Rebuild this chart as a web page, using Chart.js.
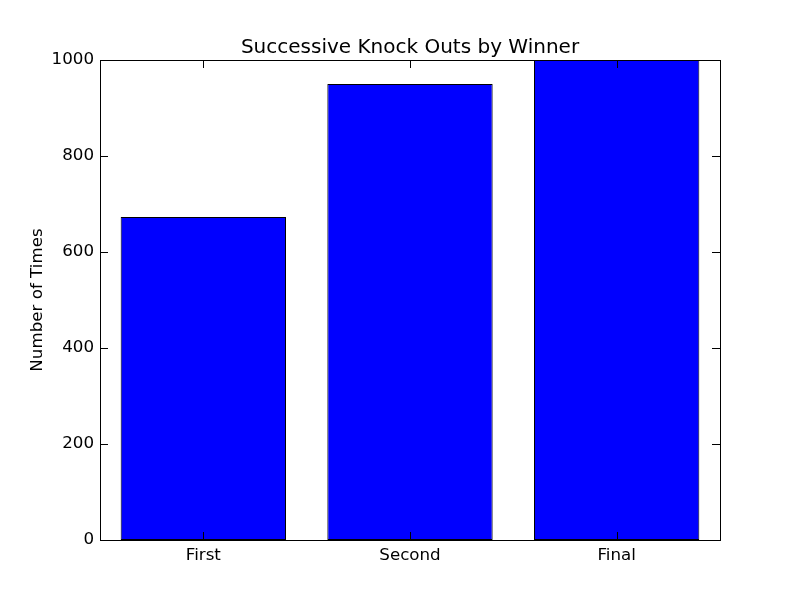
<!DOCTYPE html>
<html>
<head>
<meta charset="utf-8">
<script src="https://cdn.jsdelivr.net/npm/chart.js@4"></script>
<style>
  html, body { margin: 0; padding: 0; background: #fff; }
  #wrap { width: 800px; height: 600px; }
</style>
</head>
<body>
<div id="wrap"><canvas id="koChart" width="800" height="600"></canvas></div>
<script>
// Dados
const categories = ['First', 'Second', 'Final'];
const knockOuts = [673, 950, 1000];
const yTicks = [0, 200, 400, 600, 800, 1000];

const FONT = '"DejaVu Sans", sans-serif';

// Moldura e ticks para dentro, no estilo clássico do matplotlib
const frameTicks = {
  id: 'frameTicks',
  afterDraw(chart) {
    const { ctx, chartArea: a, scales } = chart;
    ctx.save();
    ctx.strokeStyle = '#000';
    ctx.lineWidth = 1;
    ctx.beginPath();
    scales.x.ticks.forEach((t, i) => {
      const x = Math.round(scales.x.getPixelForTick(i)) + 0.5;
      ctx.moveTo(x, a.bottom); ctx.lineTo(x, a.bottom - 8);
      ctx.moveTo(x, a.top); ctx.lineTo(x, a.top + 8);
    });
    scales.y.ticks.forEach((t, i) => {
      const y = Math.round(scales.y.getPixelForTick(i)) + 0.5;
      ctx.moveTo(a.left, y); ctx.lineTo(a.left + 8, y);
      ctx.moveTo(a.right, y); ctx.lineTo(a.right - 8, y);
    });
    ctx.stroke();
    ctx.strokeRect(Math.round(a.left) + 0.5, Math.round(a.top) + 0.5,
      Math.round(a.right - a.left), Math.round(a.bottom - a.top));
    ctx.restore();
  }
};

new Chart(document.getElementById('koChart'), {
  type: 'bar',
  data: {
    labels: categories,
    datasets: [{
      data: knockOuts,
      backgroundColor: '#0000ff',
      borderColor: '#000',
      borderWidth: 1,
      borderSkipped: false,
      barPercentage: 0.8,
      categoryPercentage: 1.0
    }]
  },
  plugins: [frameTicks],
  options: {
    responsive: false,
    animation: false,
    layout: { padding: { left: 0, right: 80, top: 0, bottom: 0 } },
    plugins: {
      legend: { display: false },
      tooltip: { enabled: false },
      title: {
        display: true,
        fullSize: false,
        text: 'Successive Knock Outs by Winner',
        color: '#000',
        font: { family: FONT, size: 20, weight: 'normal', lineHeight: 1.2 },
        padding: { top: 36, bottom: 0 }
      }
    },
    scales: {
      x: {
        offset: true,
        grid: { display: false, drawTicks: false },
        border: { display: false },
        ticks: { color: '#000', font: { family: FONT, size: 16.7 }, padding: 6 },
        afterFit(scale) { scale.height = 60; }
      },
      y: {
        min: 0,
        max: 1000,
        afterBuildTicks(scale) { scale.ticks = yTicks.map(v => ({ value: v })); },
        grid: { display: false, drawTicks: false },
        border: { display: false },
        ticks: {
          color: '#000',
          font: { family: FONT, size: 16.7 },
          padding: 6,
          callback: v => String(v)
        },
        title: {
          display: true,
          text: 'Number of Times',
          color: '#000',
          font: { family: FONT, size: 16.7 },
          padding: { top: 28, bottom: 0 }
        },
        afterFit(scale) { scale.width = 100; }
      }
    }
  }
});
</script>
</body>
</html>
